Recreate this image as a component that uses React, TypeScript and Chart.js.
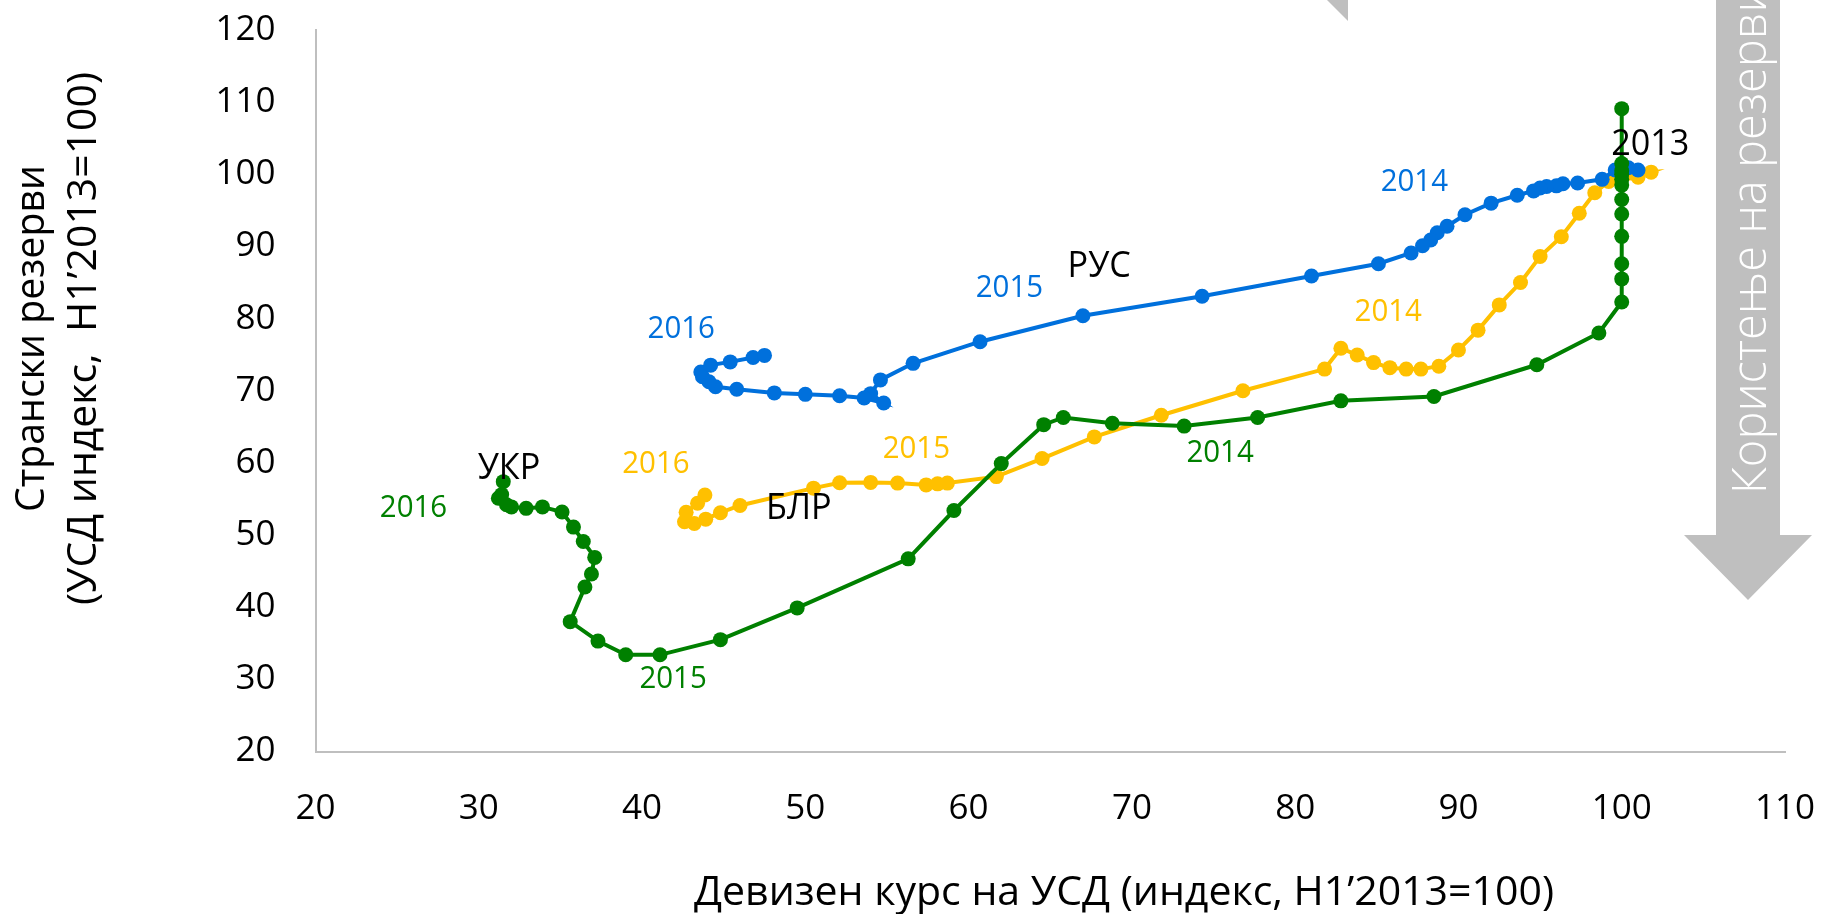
import React, { useEffect, useRef } from "react";
import { Chart, registerables } from "chart.js";

Chart.register(...registerables);

const FONT = "'Open Sans', 'Noto Sans', 'DejaVu Sans', sans-serif";
const BLUE = "#0070DC";
const YELLOW = "#FFC000";
const GREEN = "#008000";
const AXIS = "#BFBFBF";
const ARROW = "#BFBFBF";

// Ukraine (green) – exchange rate index (x) vs reserves index (y), 2013 → 2016
const ukrX = [100, 100, 100, 100, 100, 100, 100, 100, 100, 100, 100, 100, 98.6, 94.8, 88.5, 82.8, 77.7, 73.2, 68.8, 65.8, 64.6, 62.0, 59.1, 56.3, 49.5, 44.8, 41.1, 39.0, 37.3, 35.6, 36.5, 36.9, 37.1, 36.4, 35.8, 35.1, 33.9, 32.9, 32.0, 31.7, 31.2, 31.4, 31.5];
const ukrY = [100, 101.5, 109.1, 100.5, 99.3, 98.5, 96.5, 94.5, 91.4, 87.6, 85.5, 82.3, 78.0, 73.6, 69.2, 68.6, 66.3, 65.1, 65.5, 66.3, 65.3, 59.9, 53.4, 46.7, 39.9, 35.5, 33.4, 33.4, 35.3, 38.0, 42.8, 44.6, 46.9, 49.1, 51.1, 53.2, 53.9, 53.7, 53.9, 54.2, 55.1, 55.6, 57.4];

// Russia (blue)
const rusX = [101.0, 100.4, 99.6, 98.8, 97.3, 96.4, 96.0, 95.4, 95.0, 94.6, 93.6, 92.0, 90.4, 89.3, 88.7, 88.3, 87.8, 87.1, 85.1, 81.0, 74.3, 67.0, 60.7, 56.6, 54.6, 54.0, 54.8, 53.6, 52.1, 50.0, 48.1, 45.8, 44.5, 44.1, 43.7, 43.6, 44.2, 45.4, 46.8, 47.5];
const rusY = [100.6, 100.9, 100.6, 99.3, 98.8, 98.7, 98.4, 98.3, 98.1, 97.7, 97.1, 96.0, 94.4, 92.8, 91.9, 90.9, 90.1, 89.1, 87.6, 85.9, 83.1, 80.4, 76.8, 73.8, 71.5, 69.6, 68.3, 69.0, 69.3, 69.5, 69.7, 70.2, 70.55, 71.25, 71.95, 72.6, 73.55, 74.0, 74.6, 74.9];

// Belarus (yellow)
const blrX = [100.2, 101.8, 101.0, 99.2, 98.35, 97.4, 96.3, 95.0, 93.8, 92.5, 91.2, 90.0, 88.8, 87.7, 86.8, 85.8, 84.8, 83.8, 82.8, 81.8, 76.8, 71.8, 67.7, 64.5, 61.7, 58.7, 58.1, 57.4, 55.65, 54.0, 52.1, 50.5, 46.0, 44.8, 43.9, 43.2, 42.6, 42.7, 43.4, 43.85];
const blrY = [100.0, 100.3, 99.6, 99.0, 97.45, 94.6, 91.35, 88.6, 85.0, 81.9, 78.4, 75.65, 73.4, 73.0, 73.0, 73.2, 73.9, 74.95, 75.9, 73.0, 70.0, 66.6, 63.6, 60.6, 58.1, 57.2, 57.1, 56.95, 57.2, 57.3, 57.25, 56.5, 54.1, 53.1, 52.2, 51.6, 51.85, 53.15, 54.4, 55.55];

// Axis ranges / ticks
const xMin = 20, xMax = 110, xStep = 10;
const yMin = 20, yMax = 120, yStep = 10;

// Annotation labels (anchor in data units)
const labelTexts = ["2016", "2015", "РУС", "2014", "2013", "2014", "2015", "2016", "БЛР", "2016", "УКР", "2015", "2014"];
const labelX = [42.4, 62.5, 68.0, 87.3, 101.75, 85.7, 56.8, 40.85, 49.6, 26.0, 31.85, 41.9, 75.4];
const labelY = [78.8, 84.5, 87.6, 99.2, 104.5, 81.2, 62.2, 60.2, 54.0, 54.0, 59.5, 30.3, 61.6];
const labelKind = ["rus", "rus", "name", "rus", "name", "blr", "blr", "blr", "name", "ukr", "name", "ukr", "ukr"];

const xTitle = "Девизен курс на УСД (индекс, H1’2013=100)";
const yTitle1 = "Странски резерви";
const yTitle2 = "(УСД индекс,  H1’2013=100)";
const arrowText = "Користење на резерви";

const kindColor: Record<string, string> = { rus: BLUE, blr: YELLOW, ukr: GREEN, name: "#000000" };

export default function App() {
  const ref = useRef<HTMLCanvasElement | null>(null);

  useEffect(() => {
    if (!ref.current) return;
    const pts = (xs: number[], ys: number[]) => xs.map((x, i) => ({ x, y: ys[i] }));
    const ds = (label: string, xs: number[], ys: number[], color: string) => ({
      label,
      data: pts(xs, ys),
      showLine: true,
      borderColor: color,
      backgroundColor: color,
      pointBackgroundColor: color,
      pointBorderColor: color,
      pointBorderWidth: 0,
      pointRadius: 7.5,
      pointHoverRadius: 7.5,
      borderWidth: 4,
      tension: 0,
    });

    const fitted = (ctx: CanvasRenderingContext2D, text: string, size: number, target: number) => {
      ctx.font = `${size}px ${FONT}`;
      const w = ctx.measureText(text).width;
      return target / w;
    };

    const overlay = {
      id: "overlay",
      afterDraw(chart: any) {
        const ctx: CanvasRenderingContext2D = chart.ctx;
        const xs = chart.scales.x;
        const ys = chart.scales.y;
        ctx.save();

        // grey arrow on the right
        ctx.fillStyle = ARROW;
        ctx.beginPath();
        ctx.moveTo(1716, 0);
        ctx.lineTo(1780, 0);
        ctx.lineTo(1780, 535);
        ctx.lineTo(1812, 535);
        ctx.lineTo(1748, 600);
        ctx.lineTo(1684, 535);
        ctx.lineTo(1716, 535);
        ctx.closePath();
        ctx.fill();
        // small cut-off arrow tip at the top
        ctx.beginPath();
        ctx.moveTo(1327, 0);
        ctx.lineTo(1348, 0);
        ctx.lineTo(1348, 21);
        ctx.closePath();
        ctx.fill();

        // arrow text
        ctx.save();
        ctx.translate(1766, 494);
        ctx.rotate(-Math.PI / 2);
        ctx.font = `300 47px ${FONT}`;
        ctx.fillStyle = "#FFFFFF";
        ctx.textAlign = "left";
        ctx.textBaseline = "alphabetic";
        ctx.fillText(arrowText, 0, 0);
        ctx.restore();

        // annotation labels
        labelTexts.forEach((t, i) => {
          const kind = labelKind[i];
          const size = kind === "name" ? 36 : 31;
          const px = xs.getPixelForValue(labelX[i]);
          const py = ys.getPixelForValue(labelY[i]);
          ctx.save();
          ctx.font = `${size}px ${FONT}`;
          ctx.fillStyle = kindColor[kind];
          ctx.textAlign = "center";
          ctx.textBaseline = "alphabetic";
          ctx.translate(px, py + 0.357 * size);
          ctx.scale(0.95, 1);
          ctx.fillText(t, 0, 0);
          ctx.restore();
        });

        // x axis title
        ctx.save();
        ctx.fillStyle = "#000000";
        const sx = fitted(ctx, xTitle, 41, 860);
        ctx.textAlign = "center";
        ctx.textBaseline = "alphabetic";
        ctx.translate(1124, 905);
        ctx.scale(sx, 1);
        ctx.fillText(xTitle, 0, 0);
        ctx.restore();

        // y axis title (two lines, rotated)
        ctx.save();
        ctx.fillStyle = "#000000";
        ctx.textAlign = "center";
        ctx.textBaseline = "alphabetic";
        const s1 = fitted(ctx, yTitle1, 41, 347);
        ctx.save();
        ctx.translate(44, 338.5);
        ctx.rotate(-Math.PI / 2);
        ctx.scale(s1, 1);
        ctx.fillText(yTitle1, 0, 0);
        ctx.restore();
        const s2 = fitted(ctx, yTitle2, 41, 533);
        ctx.save();
        ctx.translate(96, 338.5);
        ctx.rotate(-Math.PI / 2);
        ctx.scale(s2, 1);
        ctx.fillText(yTitle2, 0, 0);
        ctx.restore();
        ctx.restore();

        ctx.restore();
      },
    };

    const zeroPad = (s: any) => {
      s.paddingTop = 0;
      s.paddingBottom = 0;
      s.paddingLeft = 0;
      s.paddingRight = 0;
    };

    const tickFont = { family: FONT, size: 35 };
    const chart = new Chart(ref.current, {
      type: "scatter",
      data: {
        datasets: [
          ds("УКР", ukrX, ukrY, GREEN),
          ds("РУС", rusX, rusY, BLUE),
          ds("БЛР", blrX, blrY, YELLOW),
        ] as any,
      },
      options: {
        animation: false,
        responsive: true,
        maintainAspectRatio: false,
        layout: { padding: { top: 30, right: 37, left: 0, bottom: 0 } },
        plugins: { legend: { display: false }, tooltip: { enabled: false } },
        scales: {
          x: {
            type: "linear",
            min: xMin,
            max: xMax,
            ticks: { stepSize: xStep, color: "#000000", font: tickFont, padding: 37 },
            grid: { display: false, drawTicks: false },
            border: { display: true, color: AXIS, width: 2 },
            afterFit: (s: any) => {
              s.height = 162.5;
              zeroPad(s);
            },
          },
          y: {
            type: "linear",
            min: yMin,
            max: yMax,
            ticks: { stepSize: yStep, color: "#000000", font: tickFont, padding: 40 },
            grid: { display: false, drawTicks: false },
            border: { display: true, color: AXIS, width: 2 },
            afterFit: (s: any) => {
              s.width = 315.5;
              zeroPad(s);
            },
          },
        },
      } as any,
      plugins: [overlay],
    });
    return () => chart.destroy();
  }, []);

  return (
    <div style={{ position: "fixed", left: 0, top: 0, width: 1822, height: 914, background: "#ffffff" }}>
      <canvas ref={ref} />
    </div>
  );
}
